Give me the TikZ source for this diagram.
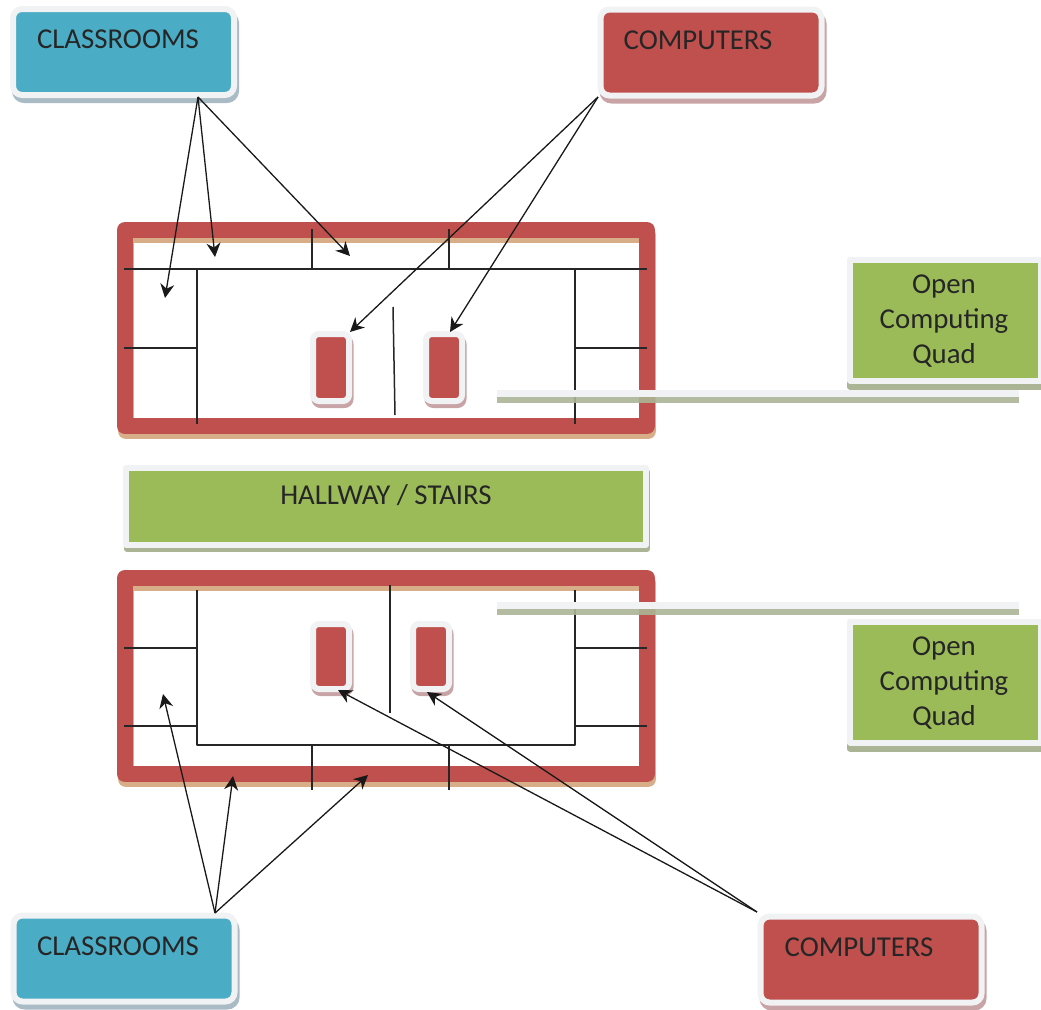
\documentclass[tikz,border=0pt]{standalone}
\usepackage{fontspec}
\setmainfont{Carlito}
\usetikzlibrary{arrows.meta}
\definecolor{roomblue}{HTML}{4BACC6}
\definecolor{wallred}{HTML}{C0504D}
\definecolor{quadgreen}{HTML}{9BBB59}
\definecolor{rimgrey}{HTML}{F0F2F4}
\definecolor{wallshade}{HTML}{D8AE88}
\definecolor{blueshade}{HTML}{A9BBC4}
\definecolor{redshade}{HTML}{C9A4A6}
\definecolor{greenshade}{HTML}{ABB596}
\tikzset{
	panel/.style={rectangle,inner sep=0,outer sep=0,line width=6,draw=rimgrey},
	tagbox/.style={panel,rounded corners=9,minimum width=221,minimum height=86},
	pcbox/.style={panel,rounded corners=6,minimum width=36,minimum height=67,fill=wallred,
		preaction={fill=redshade,draw=redshade,transform canvas={shift={(1.5pt,-4pt)}}}},
	quadbox/.style={panel,minimum width=191,minimum height=121,fill=quadgreen,
		preaction={fill=greenshade,draw=greenshade,transform canvas={shift={(0pt,-6pt)}}}},
	wallbox/.style={rectangle,inner sep=0,outer sep=0,line width=16,draw=wallred,
		minimum width=522,preaction={draw=wallshade,transform canvas={shift={(1pt,-5pt)}}}},
	wing/.style={line width=1.5pt,black!85},
	pointer/.style={line width=1.3pt,black!90,-{Stealth[length=14pt,width=14pt]}},
	caption/.style={inner sep=0,font=\fontsize{28.8}{35}\selectfont,text=black!85,align=center}
}
\begin{document}
\begin{tikzpicture}[x=1pt,y=-1pt,line join=round]
		\useasboundingbox (0,0) rectangle (1041,1009);
		% upper and lower walls
		\node[wallbox,minimum height=196] (wallTop) at (386,328) {};
		\node[wallbox,minimum height=196] (wallBot) at (386,676) {};
		% rooms upstairs
		\draw[wing] (124,269)--(647,269);
		\draw[wing] (197,269)--(197,424);
		\draw[wing] (575,269)--(575,424);
		\foreach \x in {312,449}\draw[wing] (\x,229)--(\x,269);
		\draw[wing] (124,348)--(197,348);
		\draw[wing] (575,348)--(647,348);
		\draw[wing] (393,307)--(395,415);
		% rooms downstairs
		\draw[wing] (197,590)--(197,745)--(575,745)--(575,590);
		\foreach \x in {312,449}\draw[wing] (\x,745)--(\x,790);
		\foreach \y in {648,726}{
			\draw[wing] (124,\y)--(197,\y);
			\draw[wing] (575,\y)--(647,\y);
		}
		\draw[wing] (390,585)--(390,713);
		% strips out to the quads
		\foreach \y in {390,602}{
			\fill[rimgrey] (497,\y) rectangle (1019,\y+7);
			\fill[greenshade,opacity=0.9] (497,\y+7) rectangle (1019,\y+13);
		}
		% computer blocks
		\node[pcbox] (pcTopA) at (331,367.5) {};
		\node[pcbox] (pcTopB) at (444,367.5) {};
		\node[pcbox,minimum height=65] (pcBotA) at (331,656.5) {};
		\node[pcbox,minimum height=65] (pcBotB) at (431,656.5) {};
		% labels
		\node[tagbox,fill=roomblue,preaction={fill=blueshade,draw=blueshade,transform canvas={shift={(2pt,-5pt)}}}] (classTop) at (123.5,52) {};
		\node[caption] (classTopText) at (118,39) {CLASSROOMS};
		\node[tagbox,fill=wallred,preaction={fill=redshade,draw=redshade,transform canvas={shift={(2pt,-5pt)}}}] (compTop) at (711,52.5) {};
		\node[caption] (compTopText) at (698,40) {COMPUTERS};
		\node[tagbox,fill=roomblue,preaction={fill=blueshade,draw=blueshade,transform canvas={shift={(2pt,-5pt)}}}] (classBot) at (124,958.5) {};
		\node[caption] (classBotText) at (118,946) {CLASSROOMS};
		\node[tagbox,fill=wallred,preaction={fill=redshade,draw=redshade,transform canvas={shift={(2pt,-5pt)}}}] (compBot) at (871,959.5) {};
		\node[caption] (compBotText) at (859,947) {COMPUTERS};
		\node[panel,minimum width=520,minimum height=77,fill=quadgreen,preaction={fill=greenshade,draw=greenshade,transform canvas={shift={(1pt,-4pt)}}}] (hall) at (386,506.5) {};
		\node[caption] (hallText) at (386,495) {HALLWAY / STAIRS};
		\node[quadbox] (quadTop) at (945.5,320) {};
		\node[caption] (quadTopText) at (944,321) {Open\\Computing\\Quad};
		\node[quadbox] (quadBot) at (945.5,682) {};
		\node[caption] (quadBotText) at (944,683) {Open\\Computing\\Quad};
		% arrow ends
		\coordinate (classTopOut) at (198,97);
		\coordinate (compTopOut) at (598,97);
		\coordinate (classBotOut) at (215,913);
		\coordinate (compBotOut) at (757,912);
		\coordinate (roomTopA) at (165,298);
		\coordinate (roomTopB) at (215,257);
		\coordinate (roomTopC) at (350,256);
		\coordinate (roomBotA) at (163,694);
		\coordinate (roomBotB) at (233,776);
		\coordinate (roomBotC) at (368,775);
		\coordinate (pcTopAIn) at (350,332);
		\coordinate (pcTopBIn) at (450,332);
		\coordinate (pcBotAIn) at (338,690);
		\coordinate (pcBotBIn) at (427,692);
		\foreach \t in {roomTopA,roomTopB,roomTopC}\draw[pointer] (classTopOut)--(\t);
		\foreach \t in {pcTopAIn,pcTopBIn}\draw[pointer] (compTopOut)--(\t);
		\foreach \t in {roomBotA,roomBotB,roomBotC}\draw[pointer] (classBotOut)--(\t);
		\foreach \t in {pcBotAIn,pcBotBIn}\draw[pointer] (compBotOut)--(\t);
\end{tikzpicture}
\end{document}
